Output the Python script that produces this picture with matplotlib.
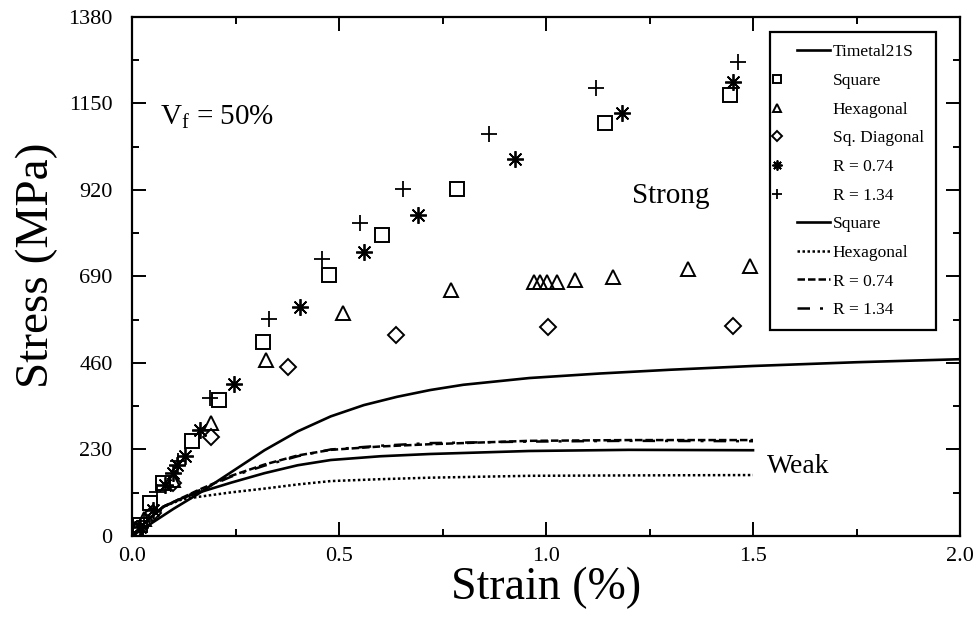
import matplotlib
matplotlib.use("Agg")
import matplotlib.pyplot as plt
from matplotlib.legend_handler import HandlerLine2D
from matplotlib.ticker import MultipleLocator

plt.rcParams["font.family"] = ["Liberation Serif", "DejaVu Serif"]
plt.rcParams["mathtext.fontset"] = "custom"
plt.rcParams["mathtext.rm"] = "Liberation Serif"
plt.rcParams["mathtext.it"] = "Liberation Serif:italic"

# strong interface, symbols (strain %, stress MPa)
square_x = [0.01, 0.02, 0.043, 0.076, 0.144, 0.211, 0.317, 0.475, 0.603, 0.784, 1.143, 1.444]
square_y = [12, 30, 88, 142, 252, 362, 515, 693, 800, 922, 1097, 1172]

hex_x = [0.01, 0.03, 0.10, 0.192, 0.324, 0.509, 0.770, 0.970, 0.985, 1.002, 1.026, 1.070, 1.161, 1.344, 1.493]
hex_y = [15, 45, 150, 301, 468, 594, 654, 674, 674, 674, 676, 681, 689, 709, 718]

diag_x = [0.015, 0.05, 0.10, 0.192, 0.376, 0.637, 1.004, 1.451]
diag_y = [18, 60, 142, 264, 448, 534, 555, 558]

r074_x = [0.02, 0.05, 0.08, 0.10, 0.108, 0.128, 0.164, 0.247, 0.406, 0.561, 0.690, 0.925, 1.184, 1.451]
r074_y = [25, 70, 136, 167, 189, 213, 282, 404, 608, 756, 853, 1002, 1126, 1208]

r134_x = [0.03, 0.06, 0.11, 0.188, 0.332, 0.459, 0.551, 0.654, 0.862, 1.121, 1.464]
r134_y = [40, 118, 200, 368, 576, 737, 831, 922, 1068, 1191, 1261]

# matrix and weak interface curves
tm_x = [0, 0.05, 0.10, 0.16, 0.24, 0.32, 0.40, 0.48, 0.56, 0.64, 0.72, 0.80, 0.96, 1.13, 1.30, 1.50, 1.75, 2.0]
tm_y = [0, 36, 72, 112, 170, 228, 278, 318, 348, 370, 388, 402, 420, 432, 442, 452, 462, 470]

wk_x = [0, 0.04, 0.076, 0.12, 0.16, 0.24, 0.32, 0.40, 0.48, 0.60, 0.72, 0.96, 1.20, 1.50]
wk_square = [0, 45, 78, 100, 115, 142, 167, 188, 202, 212, 218, 226, 229, 228]
wk_hex = [0, 45, 78, 97, 104, 116, 126, 137, 146, 151, 155, 160, 161, 162]
wk_r074 = [0, 45, 78, 101, 122, 160, 190, 214, 229, 238, 244, 253, 255, 255]
wk_r134 = [0, 45, 78, 100, 120, 158, 187, 212, 230, 240, 247, 251, 253, 252]


class LeftMarker(HandlerLine2D):
    # marker sits at the very left of the legend box
    def get_xdata(self, legend, xdescent, ydescent, width, height, fontsize):
        m = -xdescent - 0.1 * width
        return [m - 1, m + 1], [m]


class RightLine(HandlerLine2D):
    # short line sample ending right before the text
    def get_xdata(self, legend, xdescent, ydescent, width, height, fontsize):
        return [-xdescent + 0.31 * width, -xdescent + width], [-xdescent + 0.6 * width]


fig = plt.figure(figsize=(9.8, 6.22), dpi=100)
ax = fig.add_axes([0.1347, 0.1383, 0.8449, 0.8344])

ln_tm, = ax.plot(tm_x, tm_y, "k-", lw=1.9, label="Timetal21S")
mk = dict(ls="none", color="k", mfc="none")
p_sq, = ax.plot(square_x, square_y, marker="s", ms=9.5, mew=1.4, label="Square", **mk)
p_hx, = ax.plot(hex_x, hex_y, marker="^", ms=10, mew=1.4, label="Hexagonal", **mk)
p_dg, = ax.plot(diag_x, diag_y, marker="D", ms=8.5, mew=1.4, label="Sq. Diagonal", **mk)
p_r1, = ax.plot(r074_x, r074_y, marker=(8, 2, 0), ms=12, mew=1.3, label="R = 0.74", **mk)
p_r2, = ax.plot(r134_x, r134_y, marker="+", ms=12, mew=1.3, label="R = 1.34", **mk)

l_sq, = ax.plot(wk_x, wk_square, "k-", lw=1.9, label="Square")
l_hx, = ax.plot(wk_x, wk_hex, "k", ls=(0, (1.0, 1.0)), lw=1.8, label="Hexagonal")
l_r1, = ax.plot(wk_x, wk_r074, "k", ls=(0, (3.0, 1.2)), lw=1.8, label="R = 0.74")
l_r2, = ax.plot(wk_x, wk_r134, "k", ls=(0, (5.0, 4.0, 1.2, 4.0)), lw=1.8, label="R = 1.34")

ax.text(0.068, 1093, r"V$_\mathrm{f}$ = 50%", fontsize=21)
ax.text(1.208, 885, "Strong", fontsize=21)
ax.text(1.534, 167, "Weak", fontsize=20)

ax.set_xlim(0, 2.0)
ax.set_ylim(0, 1380)
ax.set_xticks([0, 0.5, 1.0, 1.5, 2.0])
ax.set_xticklabels(["0.0", "0.5", "1.0", "1.5", "2.0"])
ax.set_yticks([0, 230, 460, 690, 920, 1150, 1380])
ax.xaxis.set_minor_locator(MultipleLocator(0.25))
ax.yaxis.set_minor_locator(MultipleLocator(115))
ax.tick_params(which="both", direction="in", top=True, right=True, width=1.4,
               labelsize=16)
ax.tick_params(axis="x", pad=8)
ax.tick_params(axis="y", pad=14)
ax.tick_params(which="major", length=10)
ax.tick_params(which="minor", length=5)
for s in ax.spines.values():
    s.set_linewidth(1.6)

ax.set_xlabel("Strain (%)", fontsize=33, labelpad=0)
ax.set_ylabel("Stress (MPa)", fontsize=34)
ax.yaxis.set_label_coords(-0.089, 0.522)

handles = [ln_tm, p_sq, p_hx, p_dg, p_r1, p_r2, l_sq, l_hx, l_r1, l_r2]
hmap = {h: LeftMarker(numpoints=1) for h in [p_sq, p_hx, p_dg, p_r1, p_r2]}
hmap.update({h: RightLine() for h in [ln_tm, l_sq, l_hx, l_r1, l_r2]})
leg = ax.legend(handles=handles, loc="upper right", bbox_to_anchor=(0.971, 0.971),
                borderaxespad=0, handler_map=hmap, fontsize=12.5, labelspacing=0.72,
                handlelength=2.8, handletextpad=0.13, borderpad=0.7, fancybox=False,
                framealpha=1, edgecolor="k", markerscale=0.6)
leg.get_frame().set_linewidth(1.6)

fig.savefig("out.png", dpi=100)
